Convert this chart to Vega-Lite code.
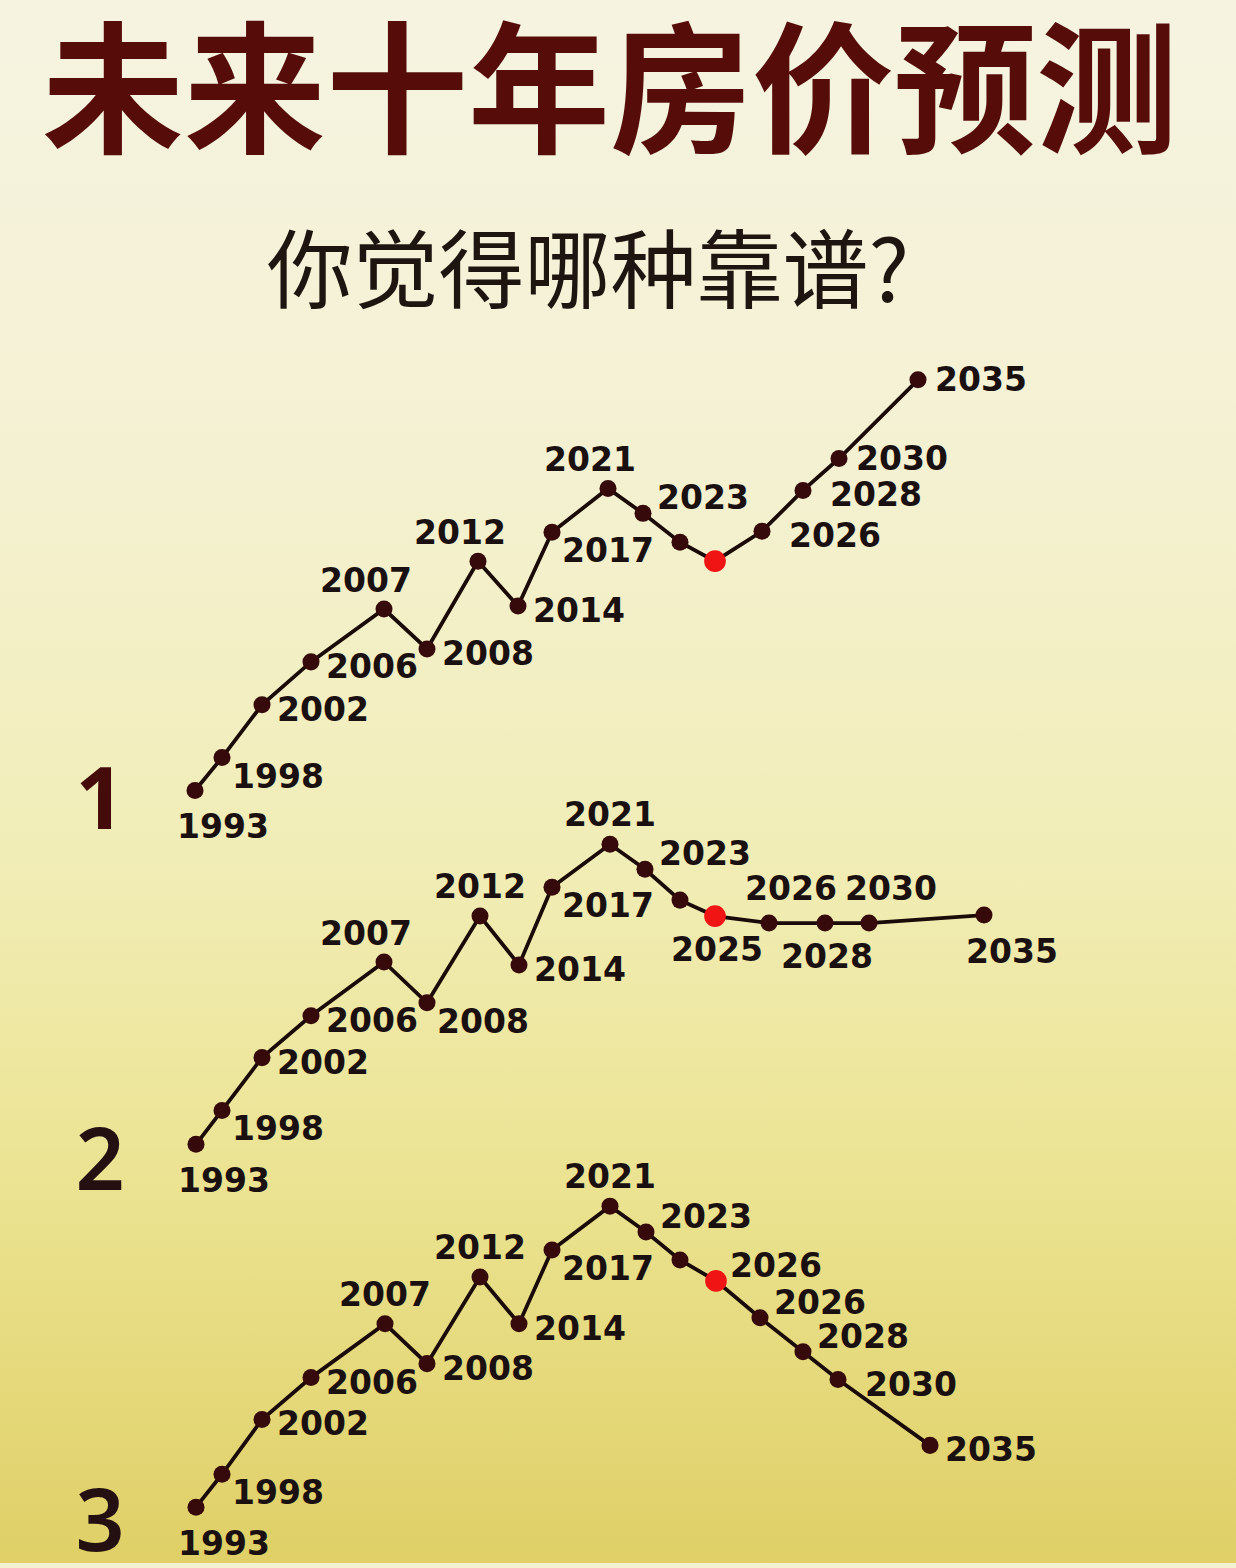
{
  "$schema": "https://vega.github.io/schema/vega-lite/v6.json",
  "width": 1236,
  "height": 1568,
  "autosize": {"type": "fit", "contains": "padding"},
  "padding": 0,
  "background": "#f4f0d2",
  "config": {"view": {"stroke": null}, "axis": {"disable": true}},
  "datasets": {
    "pts": [
      {"c": 1, "yr": "1993", "x": 195, "y": 793, "pos": "BR", "k": "past"},
      {"c": 1, "yr": "1998", "x": 222, "y": 760, "pos": "RD", "k": "past"},
      {"c": 1, "yr": "2002", "x": 262, "y": 707, "pos": "R", "k": "past"},
      {"c": 1, "yr": "2006", "x": 311, "y": 664, "pos": "R", "k": "past"},
      {"c": 1, "yr": "2007", "x": 384, "y": 611, "pos": "AL", "k": "past"},
      {"c": 1, "yr": "2008", "x": 427, "y": 651, "pos": "R", "k": "past"},
      {"c": 1, "yr": "2012", "x": 478, "y": 563, "pos": "AL", "k": "past"},
      {"c": 1, "yr": "2014", "x": 518, "y": 608, "pos": "R", "k": "past"},
      {"c": 1, "yr": "2017", "x": 552, "y": 534, "pos": "RD", "k": "past"},
      {"c": 1, "yr": "2021", "x": 608, "y": 490, "pos": "AL", "k": "past"},
      {"c": 1, "yr": "2023", "x": 643, "y": 515, "pos": "RU", "k": "past"},
      {"c": 1, "yr": "", "x": 680, "y": 544, "pos": "N", "k": "past"},
      {"c": 1, "yr": "", "x": 715, "y": 563, "pos": "N", "k": "now"},
      {"c": 1, "yr": "2026", "x": 762, "y": 533, "pos": "RW", "k": "past"},
      {"c": 1, "yr": "2028", "x": 803, "y": 492, "pos": "RW", "k": "past"},
      {"c": 1, "yr": "2030", "x": 839, "y": 460, "pos": "RM", "k": "past"},
      {"c": 1, "yr": "2035", "x": 918, "y": 381, "pos": "RM", "k": "past"},

      {"c": 2, "yr": "1993", "x": 196, "y": 1148, "pos": "BR", "k": "past"},
      {"c": 2, "yr": "1998", "x": 222, "y": 1114, "pos": "RD", "k": "past"},
      {"c": 2, "yr": "2002", "x": 262, "y": 1061, "pos": "R", "k": "past"},
      {"c": 2, "yr": "2006", "x": 311, "y": 1019, "pos": "R", "k": "past"},
      {"c": 2, "yr": "2007", "x": 384, "y": 965, "pos": "AL", "k": "past"},
      {"c": 2, "yr": "2008", "x": 427, "y": 1006, "pos": "RD", "k": "past"},
      {"c": 2, "yr": "2012", "x": 480, "y": 919, "pos": "A", "k": "past"},
      {"c": 2, "yr": "2014", "x": 519, "y": 968, "pos": "R", "k": "past"},
      {"c": 2, "yr": "2017", "x": 552, "y": 890, "pos": "RD", "k": "past"},
      {"c": 2, "yr": "2021", "x": 610, "y": 847, "pos": "A", "k": "past"},
      {"c": 2, "yr": "2023", "x": 645, "y": 872, "pos": "RU", "k": "past"},
      {"c": 2, "yr": "", "x": 680, "y": 903, "pos": "N", "k": "past"},
      {"c": 2, "yr": "2025", "x": 715, "y": 919, "pos": "B", "k": "now"},
      {"c": 2, "yr": "2026", "x": 769, "y": 926, "pos": "AR", "k": "past"},
      {"c": 2, "yr": "2028", "x": 825, "y": 926, "pos": "B", "k": "past"},
      {"c": 2, "yr": "2030", "x": 869, "y": 926, "pos": "AR", "k": "past"},
      {"c": 2, "yr": "2035", "x": 984, "y": 918, "pos": "BR", "k": "past"},

      {"c": 3, "yr": "1993", "x": 196, "y": 1512, "pos": "BR", "k": "past"},
      {"c": 3, "yr": "1998", "x": 222, "y": 1479, "pos": "RD", "k": "past"},
      {"c": 3, "yr": "2002", "x": 262, "y": 1424, "pos": "R", "k": "past"},
      {"c": 3, "yr": "2006", "x": 311, "y": 1382, "pos": "R", "k": "past"},
      {"c": 3, "yr": "2007", "x": 385, "y": 1328, "pos": "A", "k": "past"},
      {"c": 3, "yr": "2008", "x": 427, "y": 1368, "pos": "R", "k": "past"},
      {"c": 3, "yr": "2012", "x": 480, "y": 1281, "pos": "A", "k": "past"},
      {"c": 3, "yr": "2014", "x": 519, "y": 1328, "pos": "R", "k": "past"},
      {"c": 3, "yr": "2017", "x": 552, "y": 1254, "pos": "RD", "k": "past"},
      {"c": 3, "yr": "2021", "x": 610, "y": 1210, "pos": "A", "k": "past"},
      {"c": 3, "yr": "2023", "x": 646, "y": 1236, "pos": "RU", "k": "past"},
      {"c": 3, "yr": "", "x": 680, "y": 1264, "pos": "N", "k": "past"},
      {"c": 3, "yr": "2026", "x": 716, "y": 1285, "pos": "RU", "k": "now"},
      {"c": 3, "yr": "2026", "x": 760, "y": 1322, "pos": "RU", "k": "past"},
      {"c": 3, "yr": "2028", "x": 803, "y": 1356, "pos": "RU", "k": "past"},
      {"c": 3, "yr": "2030", "x": 838, "y": 1384, "pos": "RW", "k": "past"},
      {"c": 3, "yr": "2035", "x": 930, "y": 1450, "pos": "R", "k": "past"}
    ],
    "nums": [
      {"n": "1", "x": 100, "y": 806},
      {"n": "2", "x": 100, "y": 1168},
      {"n": "3", "x": 100, "y": 1530}
    ]
  },
  "encoding": {
    "x": {"field": "x", "type": "quantitative", "scale": {"domain": [0, 1236], "nice": false, "zero": false}, "axis": null},
    "y": {"field": "y", "type": "quantitative", "scale": {"domain": [0, 1568], "nice": false, "zero": false, "reverse": true}, "axis": null}
  },
  "layer": [
    {
      "data": {"values": [{"a": 1}]},
      "mark": {
        "type": "rect",
        "color": {
          "gradient": "linear", "x1": 0, "y1": 0, "x2": 0, "y2": 1,
          "stops": [
            {"offset": 0, "color": "#f6f3e1"},
            {"offset": 0.3, "color": "#f4f1d2"},
            {"offset": 0.55, "color": "#f1edb6"},
            {"offset": 0.76, "color": "#ebe391"},
            {"offset": 1, "color": "#dfcf66"}
          ]
        }
      },
      "encoding": {
        "x": {"value": 0},
        "x2": {"value": "width"},
        "y": {"value": 0},
        "y2": {"value": "height"}
      }
    },
    {
      "data": {"values": [{"t": "未来十年房价预测", "x": 610, "y": 99}]},
      "mark": {"type": "text", "font": "Noto Sans CJK SC", "fontWeight": 700, "fontSize": 142, "color": "#560d09", "align": "center", "baseline": "middle"},
      "encoding": {"text": {"field": "t"}}
    },
    {
      "data": {"values": [{"t": "你觉得哪种靠谱?", "x": 588, "y": 277}]},
      "mark": {"type": "text", "font": "Noto Sans CJK SC", "fontWeight": 400, "fontSize": 86, "color": "#1e1410", "align": "center", "baseline": "middle"},
      "encoding": {"text": {"field": "t"}}
    },
    {
      "data": {"name": "nums"},
      "transform": [{"filter": "datum.n == '1'"}],
      "mark": {"type": "text", "font": "Noto Sans", "fontWeight": 700, "fontSize": 86, "color": "#450b0a", "align": "center", "baseline": "middle"},
      "encoding": {"text": {"field": "n"}}
    },
    {
      "data": {"name": "nums"},
      "transform": [{"filter": "datum.n != '1'"}],
      "mark": {"type": "text", "font": "Noto Sans", "fontWeight": 600, "fontSize": 86, "color": "#241010", "align": "center", "baseline": "middle"},
      "encoding": {"text": {"field": "n"}}
    },
    {
      "data": {"name": "pts"},
      "mark": {"type": "line", "color": "#1a0a08", "strokeWidth": 3.8},
      "encoding": {"detail": {"field": "c"}}
    },
    {
      "data": {"name": "pts"},
      "mark": {"type": "point", "filled": true, "opacity": 1, "strokeWidth": 0},
      "encoding": {
        "color": {"field": "k", "type": "nominal", "scale": {"domain": ["past", "now"], "range": ["#360a0a", "#f01414"]}, "legend": null},
        "size": {"field": "k", "type": "nominal", "scale": {"domain": ["past", "now"], "range": [290, 470]}, "legend": null}
      }
    },
    {
      "data": {"name": "pts"},
      "transform": [{"filter": "datum.pos == 'R'"}],
      "mark": {"type": "text", "font": "DejaVu Sans", "fontWeight": "bold", "fontSize": 33, "color": "#1a1010", "align": "center", "baseline": "middle", "dx": 61, "dy": 6},
      "encoding": {"text": {"field": "yr"}}
    },
    {
      "data": {"name": "pts"},
      "transform": [{"filter": "datum.pos == 'RW'"}],
      "mark": {"type": "text", "font": "DejaVu Sans", "fontWeight": "bold", "fontSize": 33, "color": "#1a1010", "align": "center", "baseline": "middle", "dx": 73, "dy": 6},
      "encoding": {"text": {"field": "yr"}}
    },
    {
      "data": {"name": "pts"},
      "transform": [{"filter": "datum.pos == 'RM'"}],
      "mark": {"type": "text", "font": "DejaVu Sans", "fontWeight": "bold", "fontSize": 33, "color": "#1a1010", "align": "center", "baseline": "middle", "dx": 63, "dy": 1},
      "encoding": {"text": {"field": "yr"}}
    },
    {
      "data": {"name": "pts"},
      "transform": [{"filter": "datum.pos == 'RD'"}],
      "mark": {"type": "text", "font": "DejaVu Sans", "fontWeight": "bold", "fontSize": 33, "color": "#1a1010", "align": "center", "baseline": "middle", "dx": 56, "dy": 20},
      "encoding": {"text": {"field": "yr"}}
    },
    {
      "data": {"name": "pts"},
      "transform": [{"filter": "datum.pos == 'RU'"}],
      "mark": {"type": "text", "font": "DejaVu Sans", "fontWeight": "bold", "fontSize": 33, "color": "#1a1010", "align": "center", "baseline": "middle", "dx": 60, "dy": -14},
      "encoding": {"text": {"field": "yr"}}
    },
    {
      "data": {"name": "pts"},
      "transform": [{"filter": "datum.pos == 'A'"}],
      "mark": {"type": "text", "font": "DejaVu Sans", "fontWeight": "bold", "fontSize": 33, "color": "#1a1010", "align": "center", "baseline": "middle", "dx": 0, "dy": -28},
      "encoding": {"text": {"field": "yr"}}
    },
    {
      "data": {"name": "pts"},
      "transform": [{"filter": "datum.pos == 'AL'"}],
      "mark": {"type": "text", "font": "DejaVu Sans", "fontWeight": "bold", "fontSize": 33, "color": "#1a1010", "align": "center", "baseline": "middle", "dx": -18, "dy": -27},
      "encoding": {"text": {"field": "yr"}}
    },
    {
      "data": {"name": "pts"},
      "transform": [{"filter": "datum.pos == 'AR'"}],
      "mark": {"type": "text", "font": "DejaVu Sans", "fontWeight": "bold", "fontSize": 33, "color": "#1a1010", "align": "center", "baseline": "middle", "dx": 22, "dy": -33},
      "encoding": {"text": {"field": "yr"}}
    },
    {
      "data": {"name": "pts"},
      "transform": [{"filter": "datum.pos == 'B'"}],
      "mark": {"type": "text", "font": "DejaVu Sans", "fontWeight": "bold", "fontSize": 33, "color": "#1a1010", "align": "center", "baseline": "middle", "dx": 2, "dy": 35},
      "encoding": {"text": {"field": "yr"}}
    },
    {
      "data": {"name": "pts"},
      "transform": [{"filter": "datum.pos == 'BR'"}],
      "mark": {"type": "text", "font": "DejaVu Sans", "fontWeight": "bold", "fontSize": 33, "color": "#1a1010", "align": "center", "baseline": "middle", "dx": 28, "dy": 38},
      "encoding": {"text": {"field": "yr"}}
    }
  ]
}
